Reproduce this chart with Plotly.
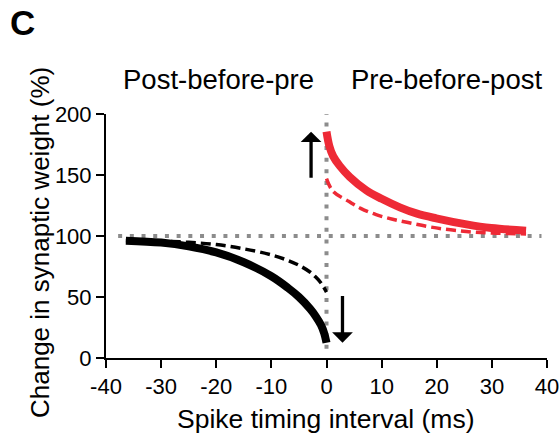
import plotly.graph_objects as go

# ---- data ----
ltd_x = [-36.4, -30, -25, -20, -15, -10, -7, -5, -3, -2, -1, -0.4, 0]
ltd_solid = [96.2, 94.6, 91.5, 86.5, 78.5, 67.0, 57.5, 50.0, 40.5, 34.5, 27.0, 20.0, 12.5]
ltd_dashed_x = [-36.4, -30, -25, -20, -15, -10, -7, -5, -3, -2, -1, 0]
ltd_dashed = [96.2, 95.8, 94.8, 93.0, 89.5, 84.5, 80.0, 76.0, 70.5, 66.5, 61.5, 54.0]

ltp_x = [0, 0.5, 1.2, 2.4, 4.2, 7.2, 10, 13.3, 16.3, 19.9, 25.4, 29.9, 36.2]
ltp_solid = [185.5, 174.0, 165.5, 157.5, 148.5, 137.5, 130.5, 123.5, 118.5, 114.5, 109.5, 106.5, 104.4]
ltp_dashed_x = [0, 1.2, 4.1, 6.2, 9, 12, 14.8, 18.1, 21.1, 24.2, 26.9, 30, 36.2]
ltp_dashed = [147.0, 136.5, 128.2, 122.7, 117.5, 113.7, 111.0, 108.0, 105.8, 104.2, 103.1, 102.4, 101.7]

baseline_x = [-37.8, 39.0]
baseline_y = [100, 100]
zero_x = [0, 0]
zero_y = [7.5, 200]

arrow_x = [-2.8, 2.9]
arrow_tail = [146.5, 52.0]
arrow_tip = [185.5, 12.5]

x_ticks = [-40, -30, -20, -10, 0, 10, 20, 30, 40]
y_ticks = [0, 50, 100, 150, 200]

panel_label = "C"
left_label = "Post-before-pre"
right_label = "Pre-before-post"
x_title = "Spike timing interval (ms)"
y_title = "Change in synaptic weight (%)"

RED = "#ee2a36"
GRAY = "#8c8c8c"
FONT = "Liberation Sans, Arial, sans-serif"

W, H = 560, 441
L, R, T, B = 106, 13, 114, 83
pw, ph = W - L - R, H - T - B


def px(xp):
    return (xp - L) / pw


def py(yp):
    return (H - B - yp) / ph


fig = go.Figure()

# reference lines (dotted gray)
fig.add_trace(go.Scatter(x=baseline_x, y=baseline_y, mode="lines",
                         line=dict(color=GRAY, width=4, dash="4px,7.7px"),
                         hoverinfo="skip", showlegend=False))
fig.add_trace(go.Scatter(x=zero_x, y=zero_y, mode="lines",
                         line=dict(color=GRAY, width=4, dash="4px,7.7px"),
                         hoverinfo="skip", showlegend=False))

# dashed curves
fig.add_trace(go.Scatter(x=ltd_dashed_x, y=ltd_dashed, mode="lines",
                         line=dict(color="black", width=3.5, dash="10px,5px", shape="spline"),
                         showlegend=False))
fig.add_trace(go.Scatter(x=ltp_dashed_x, y=ltp_dashed, mode="lines",
                         line=dict(color=RED, width=3.5, dash="10px,5px", shape="spline"),
                         showlegend=False))

# solid curves
fig.add_trace(go.Scatter(x=ltd_x, y=ltd_solid, mode="lines",
                         line=dict(color="black", width=8, shape="spline"),
                         showlegend=False))
fig.add_trace(go.Scatter(x=ltp_x, y=ltp_solid, mode="lines",
                         line=dict(color=RED, width=8, shape="spline"),
                         showlegend=False))

annotations = []
for ax_, tail, tip in zip(arrow_x, arrow_tail, arrow_tip):
    annotations.append(dict(x=ax_, y=tip, ax=ax_, ay=tail, xref="x", yref="y",
                            axref="x", ayref="y", showarrow=True, text="",
                            arrowhead=1, arrowwidth=3.3, arrowsize=1.05,
                            arrowcolor="black", standoff=0))

annotations += [
    dict(text="<b>" + panel_label + "</b>", x=px(22), y=py(22), xref="paper", yref="paper",
         showarrow=False, font=dict(family=FONT, size=35, color="black"),
         xanchor="center", yanchor="middle"),
    dict(text=left_label, x=px(218), y=py(79), xref="paper", yref="paper",
         showarrow=False, font=dict(family=FONT, size=27.5, color="black"),
         xanchor="center", yanchor="middle"),
    dict(text=right_label, x=px(446), y=py(79), xref="paper", yref="paper",
         showarrow=False, font=dict(family=FONT, size=27.5, color="black"),
         xanchor="center", yanchor="middle"),
    dict(text=x_title, x=px(325), y=py(419), xref="paper", yref="paper",
         showarrow=False, font=dict(family=FONT, size=26.5, color="black"),
         xanchor="center", yanchor="middle"),
    dict(text=y_title, x=px(40), y=py(243), xref="paper", yref="paper",
         showarrow=False, textangle=-90, font=dict(family=FONT, size=26, color="black"),
         xanchor="center", yanchor="middle"),
]

fig.update_layout(
    width=W, height=H,
    margin=dict(l=L, r=R, t=T, b=B, autoexpand=False),
    paper_bgcolor="white", plot_bgcolor="white",
    font=dict(family=FONT, color="black"),
    showlegend=False,
    annotations=annotations,
    xaxis=dict(range=[-40, 40], tickvals=x_ticks, ticktext=[str(v) for v in x_ticks],
               showgrid=False, zeroline=False, showline=True, linecolor="black",
               linewidth=2, ticks="outside", ticklen=8, tickwidth=2, tickcolor="black",
               tickfont=dict(size=22, family=FONT), automargin=False),
    yaxis=dict(range=[0, 200], tickvals=y_ticks, ticktext=[str(v) for v in y_ticks],
               showgrid=False, zeroline=False, showline=True, linecolor="black",
               linewidth=2, ticks="outside", ticklen=8, tickwidth=2, tickcolor="black",
               tickfont=dict(size=22, family=FONT), automargin=False),
)

fig.write_html("out.html", config={"displayModeBar": False},
               post_script="document.body.style.margin='0px';")
